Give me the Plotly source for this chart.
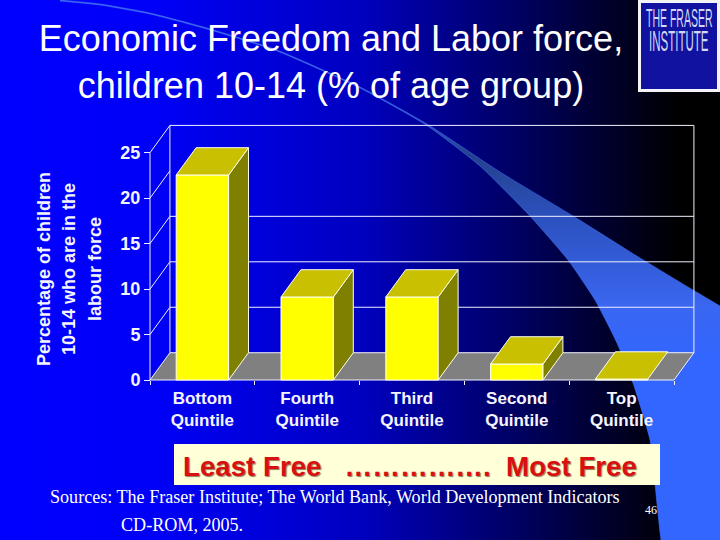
import plotly.graph_objects as go

# ---- data ----
categories = ["Bottom<br>Quintile", "Fourth<br>Quintile", "Third<br>Quintile", "Second<br>Quintile", "Top<br>Quintile"]
values = [22.55, 9.13, 9.13, 1.76, 0.1]
y_ticks = [0, 5, 10, 15, 20, 25]
wall_lines = [5, 10, 15, 25]
title_text = "Economic Freedom and Labor force,<br>children 10-14 (% of age group)"
y_title_lines = ["Percentage of children", "10-14 who are in the", "labour force"]

# ---- layout constants (pixels of the 720x540 slide) ----
W, H = 720, 540
X0, X1, Y0, Y25 = 150, 674, 380, 152.7
PX_CAT = (X1 - X0) / 5
PX_VAL = (Y0 - Y25) / 25
DX = 0.19   # depth offset, category units
DY = 3.0    # depth offset, value units
xs = list(range(len(categories)))
BW = 0.5

xr = [-0.5 - X0 / PX_CAT, -0.5 + (W - X0) / PX_CAT]
yr = [-(H - Y0) / PX_VAL, Y0 / PX_VAL]

fig = go.Figure()

# background (slide px axes)
bg_stops = [(0, "#0000ff"), (150 / 720, "#0000f8"), (360 / 720, "#0000c0"), (500 / 720, "#00006c"),
            (600 / 720, "#000030"), (680 / 720, "#000000"), (1, "#000000")]
fig.add_trace(go.Scatter(x=[0, W, W, 0, 0], y=[0, 0, H, H, 0], mode="lines", line=dict(width=0),
                         fill="toself", fillgradient=dict(type="horizontal", colorscale=bg_stops),
                         hoverinfo="skip", showlegend=False, xaxis="x", yaxis="y"))
sw_x = [60, 100, 150, 207, 277, 360, 427, 500, 573, 640, 693, 720, 790, 790, 680, 661, 650, 640, 633, 617, 595, 568, 530, 480, 427, 360, 277, 207, 150, 100, 60]
sw_y = [0, 4, 13, 28, 50, 87, 124, 172, 216, 258, 290, 306, 350, 640, 640, 540, 440, 405, 383, 343, 300, 260, 216, 166, 125.5, 88, 51, 29, 14, 5, 1]
fig.add_trace(go.Scatter(x=sw_x, y=sw_y, mode="lines", line=dict(width=0.8, color="rgba(64,112,240,0.7)", shape="spline", smoothing=0.5),
                         fill="toself",
                         fillgradient=dict(type="vertical", colorscale=[(0, "#3366ff"), (0.45, "#3366ff"), (0.53, "#3a66f0"), (0.66, "#2c52c0"), (0.76, "#24408c"), (0.85, "#3a60e0"), (1, "#4070f0")]),
                         hoverinfo="skip", showlegend=False, xaxis="x", yaxis="y"))

WALL = "#f0f0ff"
# floor and walls
fig.add_trace(go.Scatter(x=[-0.5, 4.5, 4.5 + DX, -0.5 + DX, -0.5], y=[0, 0, DY, DY, 0], mode="lines",
                         line=dict(color=WALL, width=1), fill="toself", fillcolor="#808080",
                         hoverinfo="skip", showlegend=False, xaxis="x2", yaxis="y2"))
gx = [-0.5, -0.5, None, -0.5 + DX, -0.5 + DX, None, 4.5 + DX, 4.5 + DX, None]
gy = [0, 25, None, DY, 25 + DY, None, DY, 25 + DY, None]
for t in y_ticks[1:]:
    gx += [-0.5, -0.5 + DX, None]
    gy += [t, t + DY, None]
for t in wall_lines:
    gx += [-0.5 + DX, 4.5 + DX, None]
    gy += [t + DY, t + DY, None]
fig.add_trace(go.Scatter(x=gx, y=gy, mode="lines", line=dict(color=WALL, width=1),
                         hoverinfo="skip", showlegend=False, xaxis="x2", yaxis="y2"))

# bars
fig.add_trace(go.Bar(x=xs, y=values, width=BW, marker=dict(color="#ffff00", line=dict(color="#fffff0", width=1)),
                     hoverinfo="y", showlegend=False, xaxis="x3", yaxis="y3"))
for x, v in zip(xs, values):
    l, r = x - BW / 2, x + BW / 2
    if v >= 1:
        fig.add_trace(go.Scatter(x=[r, r + DX, r + DX, r, r], y=[0, DY, v + DY, v, 0], mode="lines",
                                 line=dict(color="#fffff0", width=1), fill="toself", fillcolor="#808000",
                                 hoverinfo="skip", showlegend=False, xaxis="x3", yaxis="y3"))
    fig.add_trace(go.Scatter(x=[l, r, r + DX, l + DX, l], y=[v, v, v + DY, v + DY, v], mode="lines",
                             line=dict(color="#fffff0", width=1), fill="toself", fillcolor="#c8c000",
                             hoverinfo="skip", showlegend=False, xaxis="x3", yaxis="y3"))

TXT = "#f4f4ff"
hidden = dict(visible=False, showgrid=False, zeroline=False)
annos = []
def note(text, px, py, size, color="#ffffff", family="Liberation Sans", angle=0, **kw):
    annos.append(dict(text=text, x=px / W, y=1 - py / H, xref="paper", yref="paper", showarrow=False,
                      xanchor="center", yanchor="middle", textangle=angle,
                      font=dict(size=size, color=color, family=family, **kw.pop("font", {})), **kw))

for line, px in zip(y_title_lines, [44, 69, 95]):
    note(f"<b>{line}</b>", px, 269, 18, TXT, angle=-90)
note("THE FRASER", 679, 17, 10.5, "#d0d8f4")
note("INSTITUTE", 679, 41, 11.5, "#d0d8f4")
note("<b>Least Free   …………….  Most Free</b>", 410, 466, 27.7, "#d81010", font=dict(shadow="1px 1px 1px #908060"))
note("Sources: The Fraser Institute; The World Bank, World Development Indicators", 334.5, 497, 18.1, "#ffffff", "Liberation Serif")
note("CD-ROM, 2005.", 182, 525, 18.1, "#ffffff", "Liberation Serif")
note("46", 651, 510, 12, "#ffffff", "Liberation Serif")

fig.update_layout(
    width=W, height=H, autosize=False, margin=dict(l=0, r=0, t=0, b=0, pad=0, autoexpand=False),
    paper_bgcolor="#000080", plot_bgcolor="rgba(0,0,0,0)", showlegend=False,
    font=dict(family="Liberation Sans", color="#ffffff"),
    title=dict(text=title_text, x=331 / W, xanchor="center", y=1 - 51 / H, yanchor="top",
               font=dict(size=36, color="#ffffff", family="Liberation Sans")),
    xaxis=dict(domain=[0, 1], range=[0, W], **hidden),
    yaxis=dict(domain=[0, 1], range=[H, 0], **hidden),
    xaxis2=dict(domain=[0, 1], range=xr, anchor="y2", **hidden),
    yaxis2=dict(domain=[0, 1], range=yr, anchor="x2", **hidden),
    xaxis3=dict(domain=[0, 1], range=xr, anchor="free", position=1 - Y0 / H, tickmode="array", tickvals=xs,
                ticktext=categories, ticks="", showgrid=False, zeroline=False, showline=False, ticklabelstandoff=6,
                tickfont=dict(size=17, color=TXT, family="Liberation Sans", weight="bold"),
                minor=dict(tickmode="array", tickvals=[-0.5, 0.5, 1.5, 2.5, 3.5, 4.5], ticks="outside",
                           ticklen=4, tickcolor=WALL, tickwidth=1, showgrid=False)),
    yaxis3=dict(domain=[0, 1], range=yr, anchor="free", position=X0 / W, tickmode="array", tickvals=y_ticks,
                ticks="outside", ticklen=6, tickcolor=WALL, tickwidth=1, showgrid=False, zeroline=False,
                showline=False, tickfont=dict(size=18, color=TXT, family="Liberation Sans", weight="bold")),
    annotations=annos,
    shapes=[
        dict(type="rect", xref="paper", yref="paper", x0=638 / W, x1=1, y0=1 - 92 / H, y1=1,
             fillcolor="#f4f4f8", line=dict(width=0), layer="above"),
        dict(type="rect", xref="paper", yref="paper", x0=641 / W, x1=717 / W, y0=1 - 89 / H, y1=1 - 3 / H,
             fillcolor="#1212a0", line=dict(width=0), layer="above"),
        dict(type="rect", xref="paper", yref="paper", x0=174 / W, x1=660 / W, y0=1 - 485 / H, y1=1 - 444 / H,
             fillcolor="#ffffd8", line=dict(width=0), layer="above"),
    ],
)
squeeze = """
document.body.style.margin='0';document.body.style.overflow='hidden';
document.querySelectorAll('.annotation-text').forEach(function(t){
  if(/FRASER|INSTITUTE/.test(t.textContent)){
    var b=t.getBBox();var cy=b.y+b.height/2;
    t.setAttribute('transform','translate(0,'+cy+') scale(1,2.5) translate(0,'+(-cy)+')');
  }
});
"""
fig.write_html("out.html", config=dict(displayModeBar=False), post_script=squeeze)
